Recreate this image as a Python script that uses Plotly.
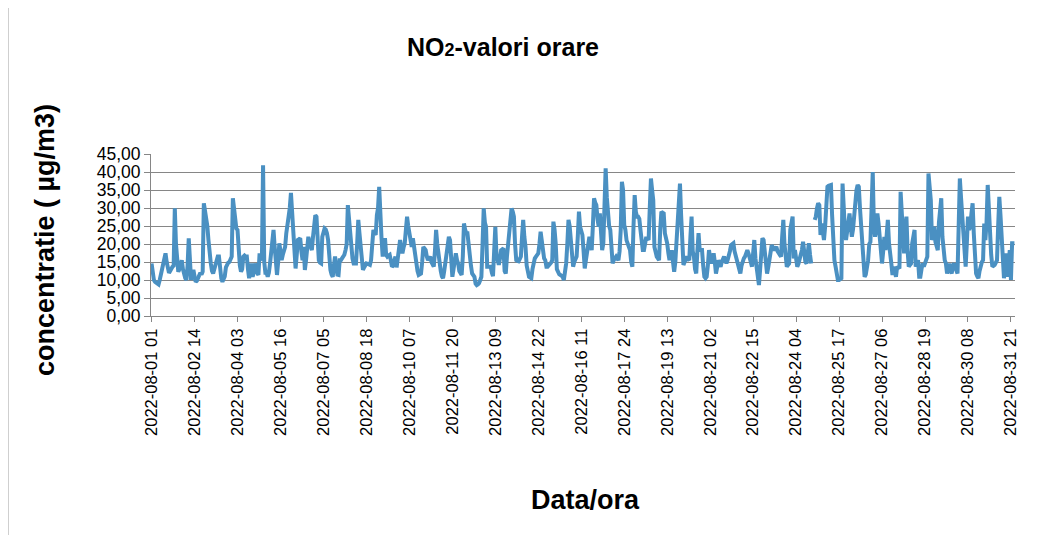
import pandas as pd
import plotly.graph_objects as go

# hourly NO2 values, 2022-08-01 01 .. 2022-08-31 24, None = missing
no2_01_03 = [
    14.6, 12, 10, 9.5, 9.3, 9, 8.8, 10, 11.5, 12.5,
    14, 16, 17.4, 15, 13, 12, 12.5, 13.5, 13.7, 14,
    29.9, 20, 14, 12.3, 13, 14.5, 15.5, 13, 11.5, 10.5,
    10, 14, 21.6, 15, 10, 12, 12.8, 11, 9.5, 9.8,
    10.5, 11.8, 12, 11.5, 12.3, 31.3, 29, 28, 25, 21,
    17, 14.6, 12.5, 11.8, 13, 14.5, 15.5, 16.5, 16.5, 13,
    10.5, 9.5, 10,
]
no2_03_06 = [
    11, 13.5, 14.6, 14.8, 15, 15.5, 16.5,
    32.7, 30, 25, 24.3, 23.9, 18, 14, 12.3, 13, 16.5,
    16.8, 16.5, 16.5, 13, 10.5, 12.5, 14.6, 10.9, 12, 14.6,
    13, 12, 11.4, 17.4, 16, 15.5, 41.9, 15, 12, 12,
    10.9, 12, 14.6, 18, 21, 23.9, 19.2, 13, 11.4, 15,
    20.2, 18, 15.5, 17, 18.5, 19.2, 23, 26.7, 27.6, 30,
    34.2, 29, 23.9, 18, 13.2, 17, 21.1, 21.3, 21.6, 18,
    15.5, 19.2,
]
no2_06_09 = [
    12.8, 15.5, 19, 22, 20.5, 19, 18.3, 22,
    26, 28, 27.6, 20, 15.5, 14.8, 14.6, 22, 23.9, 24.3,
    24, 23, 21.1, 16, 12.8, 11.5, 10.9, 14, 16.5, 14,
    11.5, 11.4, 15.5, 15.5, 16, 16.5, 17, 18.3, 20, 30.8,
    27, 22, 18, 16, 14.6, 14.6, 14.6, 20, 26.7, 23,
    19.2, 15, 12.8, 13.5, 14.2, 14.6, 14.5, 14.3, 14.2, 15.5,
    19, 23.9, 23, 22.5, 28, 30,
]
no2_09_12 = [
    35.9, 24, 21.6, 16.5,
    19, 21.6, 17, 16.5, 16.8, 17, 15.5, 13.7, 14, 15.5,
    16.5, 13.5, 16, 19, 21.1, 19, 17.4, 19, 20.2, 24,
    27.6, 25, 23, 21, 19.2, 21.6, 19, 16.5, 15.5, 12.5,
    11.4, 11.5, 11.8, 15, 19.2, 18.8, 18.3, 16.5, 15.5, 16,
    16.5, 15, 14, 13.7, 18, 23.9, 20, 16.5, 14.6, 12.5,
    11, 10.5, 12.5, 14.6, 17.5, 20.5, 22, 21.1, 15, 10.9,
    13, 15.5, 17.4, 15.5, 14.6, 12.5,
]
no2_12_15 = [
    11.8, 11.4, 16.5, 25.7,
    24, 23, 23, 19, 16.5, 14, 11.8, 11.2, 10.9, 9,
    8.6, 8.8, 9.1, 10, 10.9, 20, 29.9, 26, 24.8, 13.7,
    13.7, 13.7, 13.7, 12, 11.1, 18, 24.8, 17, 14.6, 14.2,
    16, 18.3, 18.5, 18.8, 12.5, 11.8, 16.5, 20, 24.8, 27,
    29.9, 29, 27.6, 20, 15.5, 15.3, 15.2, 15.8, 16.5, 22,
    26.7, 22, 19.2, 14, 11.8, 10.9, 10.7, 10.5, 13, 15.5,
    16, 16.5, 17, 17.4, 20, 23.4, 21, 18.3, 16, 15.5,
]
no2_15_17 = [
    13.7, 13.7, 14, 14.2, 14.8, 15.5, 26.2, 24, 20.2, 13,
    11.8, 11.6, 11.4, 11.2, 10.9, 10, 12, 14.6, 20, 26.7,
    25, 22, 18, 13.7, 15, 16, 16.5, 22, 29, 24.8,
    23.9, 22.5, 18, 13.2, 15.5, 18.3, 20, 22, 20, 18.3,
    25, 32.7, 31.5, 30.8, 27, 24.8, 28.5, 24, 18.3, 20.2,
    30, 41, 33, 27.6, 25, 23.9, 17, 14.6, 15.5, 16,
    16.5, 16, 15.5, 18,
]
no2_17_20 = [
    24, 37.3, 35, 25.3, 23.9, 21, 20, 19, 18.3, 15,
    13.7, 25, 33.6, 29, 27.6, 27.6, 27, 23.9, 19.5, 18.3,
    18.3, 20, 22, 21.5, 21.1, 30, 38.2, 35, 32.2, 19.2,
    17.5, 16.5, 16, 15.5, 24, 29, 28.7, 28.5, 23, 21.6,
    20.2, 17.5, 15.5, 17, 18.3, 15, 12.3, 15, 21, 23,
    30, 36.8, 28, 19.2, 14.2, 15, 16, 16.5, 15.8, 15.5,
    22, 27.6, 18, 16.5, 13, 11.8, 18, 23, 18.3, 18.3,
    18.3, 14, 10.9, 10.5,
]
no2_20_23 = [
    10.9, 14,
    18.3, 16, 14.6, 15.5, 17.4, 15, 11.8, 13.5, 15.5, 14.5,
    13.7, 15, 16.2, 16.5, 15.5, 14.6, 15.5, 16.5, 18, 19.7,
    20, 20.2, 18, 16.5, 15, 14.2, 12.5, 11.8, 14, 15.5,
    16, 16.5, 17.5, 18.3, 17.4, 16.5, 15, 13.7, 17, 21.1,
    16, 12.8, 10, 8.6, 12.8, 18, 21.6, 21.1, 18, 15.5,
    11.8, 13.5, 15.5, 17.5, 19.7, 19, 18.3, 18.8, 19.2, 18,
    17.4, 16.8, 16.5, 22, 26.7,
]
no2_23_26 = [
    20, 17.4, 13.7, 14.2, 14.6,
    24, 26.7, 27.6, 16, 18.3, 16, 13.7, 14.5, 15.5, 17,
    18.3, 20.6, 16.5, 15, 14.6, 17, 20.2, 17, 14.6, None,
    None, 26.7, 27.6, 30, 31.3, 30.8, 22.5, 25.7, 23, 21.1,
    24.8, 30, 35.9, 36.2, 36.4, 36.4, 28, 18.3, 15.5, 13.7,
    11, 10, 10, 10.5, 10.5, 36.8, 27.6, 24, 21.1, 23.9,
    26, 28.5, 24.8, 22, 24, 27.6, 33, 35, 36.4, 35.9,
]
no2_26_29 = [
    30, 26, 21.5, 15, 10.9, 11.5, 13, 15.5, 20, 20.6,
    30, 40, 25, 22, 24, 28.5, 25.7, 22, 18.3, 14.6,
    18, 22, 18.3, 22, 26.7, 20.2, 16, 14.6, 11.4, 13.7,
    12.5, 10.9, 13.7, 13.5, 13.2, 34.5, 27, 25.7, 17.4, 24,
    27.6, 18.3, 13.7, 14.2, 14.6, 20.2, 22, 23.9, 13.7, 14.8,
    15.5, 10.9, 10.9, 13, 14.6, 13.7, 14.5, 15.5, 16.5, 39.6,
    35, 32.2, 21.1, 24, 24.8, 20.6, 19, 18.3, 26, 30,
]
no2_29_31 = [
    32.7, 22, 18.3, 15.5, 14.6, 11.8, 13, 14.6, 12.5, 11.8,
    14, 14.6, 13.5, 12.8, 11.8, 25, 38.2, 33, 28, 22,
    16, 13.7, 20, 27.6, 23.9, 25, 28.5, 31.3, 23, 17,
    11.8, 11, 10.5, 12.5, 14.6, 15, 15.5, 25.7, 21.1, 26,
    36.4, 28, 22, 17, 13.7, 13.9, 14.2, 14.8, 15.5, 25,
    33.1, 28, 20, 11.8, 10.5, 14, 17.4, 10.9, 16, 18.3,
    10, 20.2, 20.2, 20.2,
]

tick_labels = [
    "2022-08-01 01", "2022-08-02 14", "2022-08-04 03", "2022-08-05 16",
    "2022-08-07 05", "2022-08-08 18", "2022-08-10 07", "2022-08-11 20",
    "2022-08-13 09", "2022-08-14 22", "2022-08-16 11", "2022-08-17 24",
    "2022-08-19 13", "2022-08-21 02", "2022-08-22 15", "2022-08-24 04",
    "2022-08-25 17", "2022-08-27 06", "2022-08-28 19", "2022-08-30 08",
    "2022-08-31 21",
]

no2 = (no2_01_03 + no2_03_06 + no2_06_09 + no2_09_12 + no2_12_15 + no2_15_17
       + no2_17_20 + no2_20_23 + no2_23_26 + no2_26_29 + no2_29_31)

df = pd.DataFrame({"idx": range(len(no2)), "no2": no2})
df["label"] = [f"2022-08-{i // 24 + 1:02d} {i % 24 + 1:02d}" for i in df["idx"]]

FONT = "Liberation Sans, Arial, sans-serif"
GRID = "#868686"

fig = go.Figure(
    go.Scatter(
        x=df["idx"], y=df["no2"], mode="lines",
        line=dict(color="#4a90c2", width=4),
        customdata=df["label"],
        hovertemplate="%{customdata}<br>%{y:.2f}<extra></extra>",
    )
)

tick_pos = [df.index[df["label"] == t][0] for t in tick_labels]

fig.update_xaxes(
    range=[-0.5, len(no2) - 0.5], tickvals=tick_pos, ticktext=tick_labels,
    tickangle=-90, showgrid=False, showline=True, linecolor=GRID,
    ticks="outside", ticklen=5, tickcolor=GRID, zeroline=False,
    tickfont=dict(size=16.5, color="#000000"),
)
fig.update_yaxes(
    range=[0, 45], dtick=5, tickformat=".2f", showgrid=True, gridcolor=GRID,
    gridwidth=1, showline=True, linecolor=GRID, ticks="outside", ticklen=6,
    tickcolor=GRID, zeroline=False, tickfont=dict(size=17.5, color="#000000"),
)

# the page body adds an 8px offset; target plot area is 151..1015 x 154..316 on the page
OFF = 8
W, H = 1057 - OFF, 535 - OFF
L, T = 151 - OFF, 154 - OFF
R, B = W - (1015 - OFF), H - (316 - OFF)
pw, ph = W - L - R, H - T - B


def px(x, y):
    return (x - OFF - L) / pw, (H - B - (y - OFF)) / ph


annotations = []
for text, (ax, ay), size, angle in [
    ("NO<span style='font-size:18px'>2</span>-valori orare", (503, 47), 25, 0),
    ("Data/ora", (585, 500), 27, 0),
    ("concentratie ( µg/m3)", (45, 240), 27, -90),
]:
    xp, yp = px(ax, ay)
    annotations.append(dict(
        text=f"<b>{text}</b>", x=xp, y=yp, xref="paper", yref="paper",
        xanchor="center", yanchor="middle", showarrow=False, textangle=angle,
        font=dict(family=FONT, size=size, color="#000000"),
    ))

x0, y0 = px(8, 0)
x1, y1 = px(8, 535)
fig.add_shape(type="line", xref="paper", yref="paper", x0=x0, x1=x1, y0=y0, y1=y1,
              line=dict(color="#a0a0a0", width=1))

fig.update_layout(
    width=W, height=H, margin=dict(l=L, r=R, t=T, b=B),
    paper_bgcolor="white", plot_bgcolor="white", showlegend=False,
    separators=", ", font=dict(family=FONT, color="#000000"),
    annotations=annotations,
)

fig.write_html("out.html")
